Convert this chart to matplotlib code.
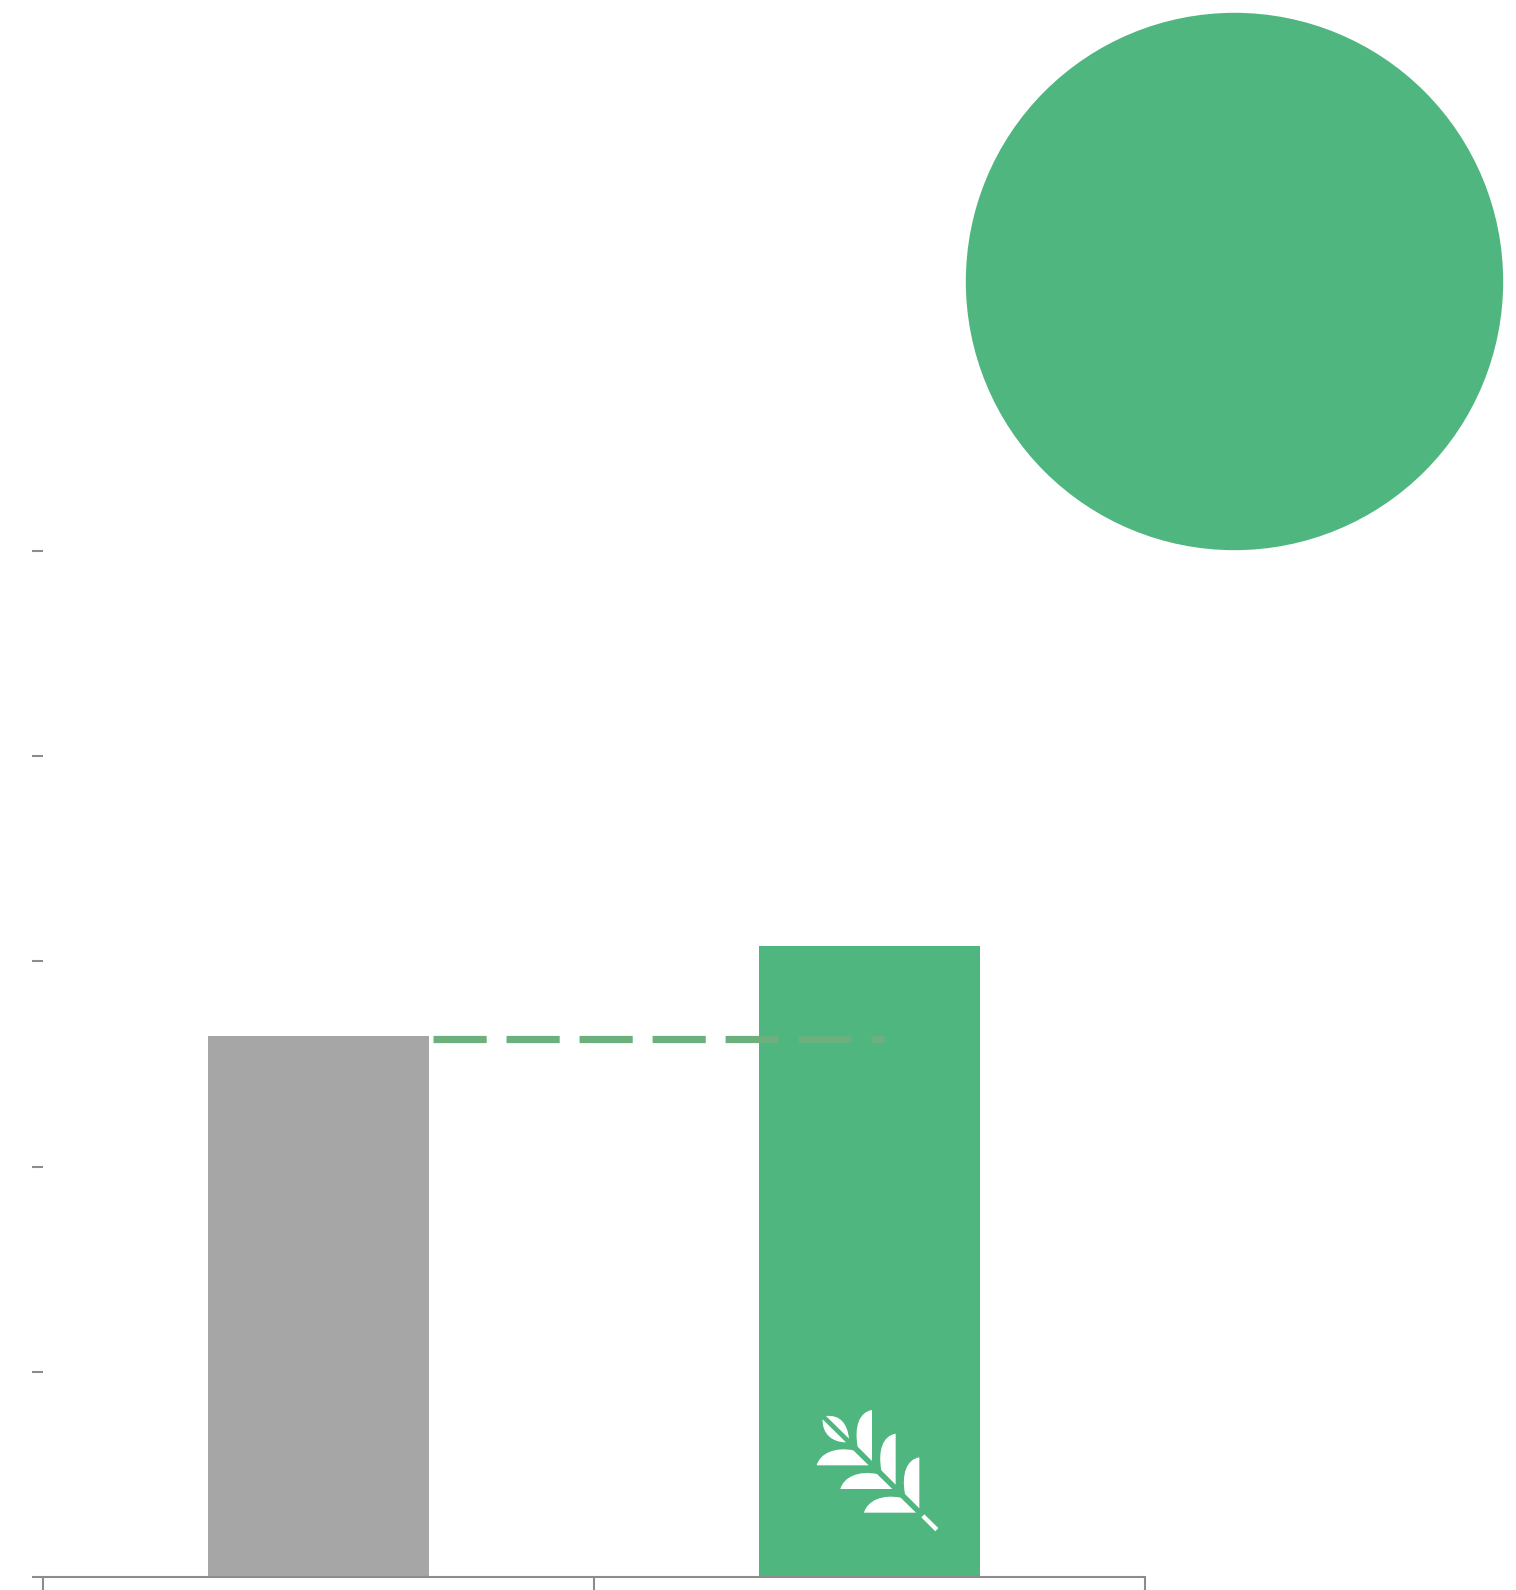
import matplotlib
matplotlib.use('Agg')
import matplotlib.pyplot as plt
from matplotlib.path import Path
from matplotlib.patches import PathPatch

###  DATA  ###
categories = [0, 1]
bar_values = [2.635, 3.075]
bar_colors = ['#A6A6A6', '#4FB67F']
y_ticks = [0, 1, 2, 3, 4, 5]
x_ticks = [-0.5, 0.5, 1.5]

# dashed reference line, carries the grey bar's level over to the green one
ref_x = [0.207, 1.026]
ref_y = [2.622, 2.622]

# big bubble top right
bubble_x = [1.6608]
bubble_y = [6.315]
bubble_size = [149700]

AXIS_COLOR = '#8C8C8C'
W, H = 1516, 1590

fig = plt.figure(figsize=(W / 100, H / 100), dpi=100)
ax = fig.add_axes([43 / W, 1 - 1577.3 / H, (1145 - 43) / W, (1577.3 - 550.9) / H])

ax.bar(categories, bar_values, width=0.4, color=bar_colors, zorder=2)
ax.plot(ref_x, ref_y, color='#6BB07D', lw=5.2, zorder=3,
        dashes=(53 / 7.2, 19.8 / 7.2), dash_capstyle='butt', solid_capstyle='butt')
ax.scatter(bubble_x, bubble_y, s=bubble_size, color='#4FB67F', linewidths=0, clip_on=False, zorder=2)

ax.set_xlim(-0.5, 1.5)
ax.set_ylim(0, 5)
ax.set_xticks(x_ticks)
ax.set_yticks(y_ticks)
ax.set_xticklabels([])
ax.set_yticklabels([])
ax.tick_params(axis='y', color=AXIS_COLOR, width=1.5, length=8)
ax.tick_params(axis='x', color=AXIS_COLOR, width=1.5, length=10)
for side in ['top', 'right', 'left']:
    ax.spines[side].set_visible(False)
ax.spines['bottom'].set_color(AXIS_COLOR)
ax.spines['bottom'].set_linewidth(1.5)
ax.spines['bottom'].set_zorder(4)


##########################
###    LEAF ICON       ###
##########################
# sits on the green bar, coordinates are pixels of a 510x450 box
icon = fig.add_axes([790 / W, 1 - 1540 / H, 170 / W, 150 / H])
icon.set_xlim(0, 510)
icon.set_ylim(450, 0)
icon.axis('off')
icon.patch.set_alpha(0)

C4 = Path.CURVE4


def add_shape(verts, codes):
    icon.add_patch(PathPatch(Path(verts, codes), facecolor='white', edgecolor='none'))


# small leaf at the tip, two halves
add_shape([(108, 78), (150, 74), (172, 100), (177, 146), (108, 78)],
          [Path.MOVETO, C4, C4, C4, Path.LINETO])
add_shape([(98, 88), (96, 130), (125, 157), (168, 157), (98, 88)],
          [Path.MOVETO, C4, C4, C4, Path.LINETO])

# three pairs of big leaves going down the stem
for off in [0, 71, 142]:
    add_shape([(246 + off, 60 + off), (208 + off, 66 + off), (192 + off, 110 + off),
               (203 + off, 170 + off), (246 + off, 213 + off), (246 + off, 60 + off)],
              [Path.MOVETO, C4, C4, C4, Path.LINETO, Path.LINETO])
    add_shape([(80 + off, 226 + off), (90 + off, 190 + off), (135 + off, 170 + off),
               (190 + off, 181 + off), (236 + off, 226 + off), (80 + off, 226 + off)],
              [Path.MOVETO, C4, C4, C4, Path.LINETO, Path.LINETO])

# stem end
add_shape([(403, 373), (445, 414), (436, 424), (394, 382), (403, 373)],
          [Path.MOVETO, Path.LINETO, Path.LINETO, Path.LINETO, Path.LINETO])

plt.savefig('out.png', dpi=100)
plt.close()
